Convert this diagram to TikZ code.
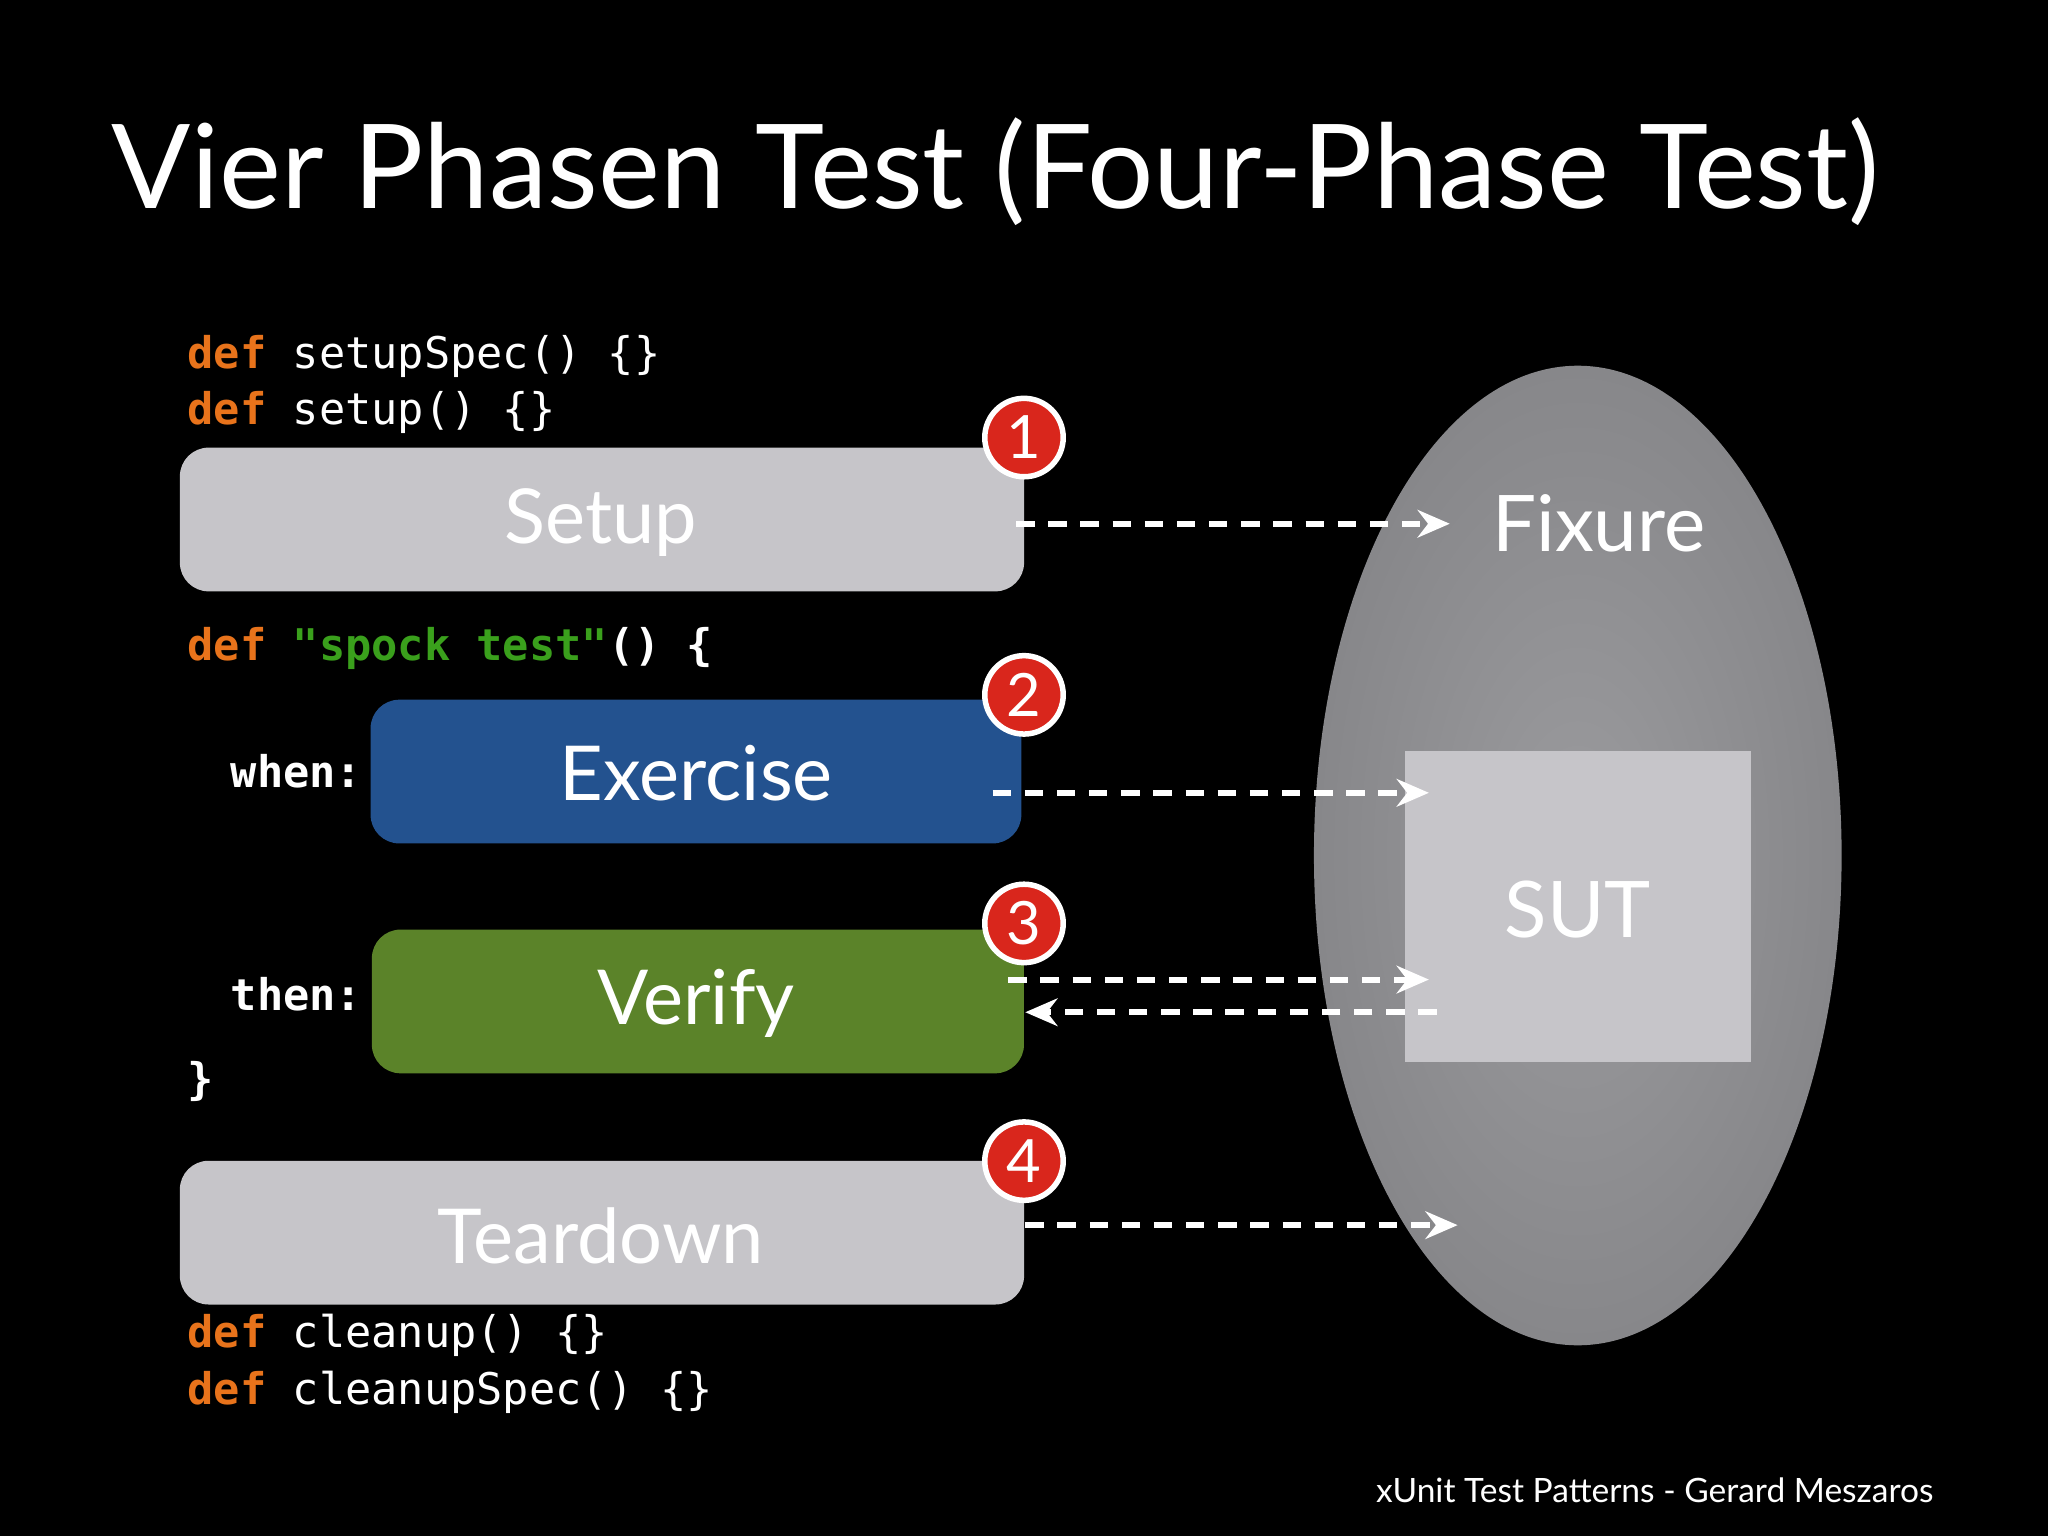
\documentclass[tikz,border=0pt]{standalone}
\usepackage{fontspec}
\setmainfont{Lato}
\setmonofont{DejaVu Sans Mono}
\usetikzlibrary{arrows.meta}
\definecolor{boxgray}{HTML}{C6C5C9}
\definecolor{exblue}{HTML}{23528F}
\definecolor{vgreen}{HTML}{5B8329}
\definecolor{kworange}{HTML}{E8731B}
\definecolor{strgreen}{HTML}{3AA01C}
\definecolor{badgered}{HTML}{D9261C}
\begin{document}
\begin{tikzpicture}[x=0.01cm,y=-0.01cm,
  phase/.style={rounded corners=0.22cm,inner sep=0,anchor=north west},
  lbl/.style={text=white,font=\fontsize{16.5}{18}\selectfont},
  code/.style={anchor=base west,inner sep=0,text=white,font=\ttfamily\fontsize{9.5}{11}\selectfont},
  badge/.style={circle,fill=badgered,draw=white,line width=1.2pt,minimum size=0.6cm,inner sep=0,text=white,font=\fontsize{13}{14}\selectfont},
  flow/.style={white,line width=1.3pt,dash pattern=on 4pt off 3pt,-{Stealth[length=7pt,width=6pt]}}]
\fill[black] (0,0) rectangle (1568,1176);
\useasboundingbox (0,0) rectangle (1568,1176);
\node[anchor=base west,inner sep=0,text=white,font=\fontsize{25.5}{28}\selectfont] (title) at (85,160) {Vier Phasen Test (Four-Phase Test)};
% ellipse
\fill[inner color={rgb,255:red,155;green,155;blue,158},outer color={rgb,255:red,135;green,135;blue,138}] (1208,655) ellipse [x radius=202,y radius=375];
\node[fill=boxgray,minimum width=2.65cm,minimum height=2.38cm,inner sep=0] (sut) at (1208,694) {};
\node[lbl,font=\fontsize{17}{18}\selectfont] (suttxt) at (1208,696) {SUT};
\node[lbl,anchor=west,font=\fontsize{17}{18}\selectfont] (fix) at (1130,401) {Fixure};
% boxes
\node[phase,fill=boxgray,minimum width=6.46cm,minimum height=1.1cm] (setup) at (137,342) {};
\node[lbl] at (460,400) {Setup};
\node[phase,fill=exblue,minimum width=4.98cm,minimum height=1.1cm] (ex) at (283,535) {};
\node[lbl] at (533,592) {Exercise};
\node[phase,fill=vgreen,minimum width=4.99cm,minimum height=1.1cm] (ver) at (284,711) {};
\node[lbl] at (533,768) {Verify};
\node[phase,fill=boxgray,minimum width=6.46cm,minimum height=1.1cm] (td) at (137,888) {};
\node[lbl] at (460,946) {Teardown};
% badges
\node[badge] (b1) at (784,335) {1};
\node[badge] (b2) at (784,532) {2};
\node[badge] (b3) at (784,707) {3};
\node[badge] (b4) at (784,889) {4};
% code
\node[code] (c1) at (143,282) {\textcolor{kworange}{\bfseries def} setupSpec() \{\}};
\node[code] (c2) at (143,325) {\textcolor{kworange}{\bfseries def} setup() \{\}};
\node[code] (c3) at (143,506) {\bfseries\textcolor{kworange}{def} \textcolor{strgreen}{"spock test"}() \{};
\node[code] (c4) at (176,603) {\bfseries when:};
\node[code] (c5) at (176,774) {\bfseries then:};
\node[code] (c6) at (143,838) {\bfseries \}};
\node[code] (c7) at (143,1032) {\textcolor{kworange}{\bfseries def} cleanup() \{\}};
\node[code] (c8) at (143,1075) {\textcolor{kworange}{\bfseries def} cleanupSpec() \{\}};
% arrows
\coordinate (a1s) at (778,401); \coordinate (a1e) at (1110,401);
\coordinate (a2s) at (760,607); \coordinate (a2e) at (1094,607);
\coordinate (a3s) at (772,750); \coordinate (a3e) at (1094,750);
\coordinate (a4s) at (1100,775); \coordinate (a4e) at (785,775);
\coordinate (a5s) at (785,938); \coordinate (a5e) at (1116,938);
\draw[flow] (a1s) -- (a1e);
\draw[flow] (a2s) -- (a2e);
\draw[flow] (a3s) -- (a3e);
\draw[flow] (a4s) -- (a4e);
\draw[flow] (a5s) -- (a5e);
\node[anchor=base east,inner sep=0,text=white,font=\fontsize{7.3}{9}\selectfont] (foot) at (1481,1150) {xUnit Test Patterns - Gerard Meszaros};
\end{tikzpicture}
\end{document}
